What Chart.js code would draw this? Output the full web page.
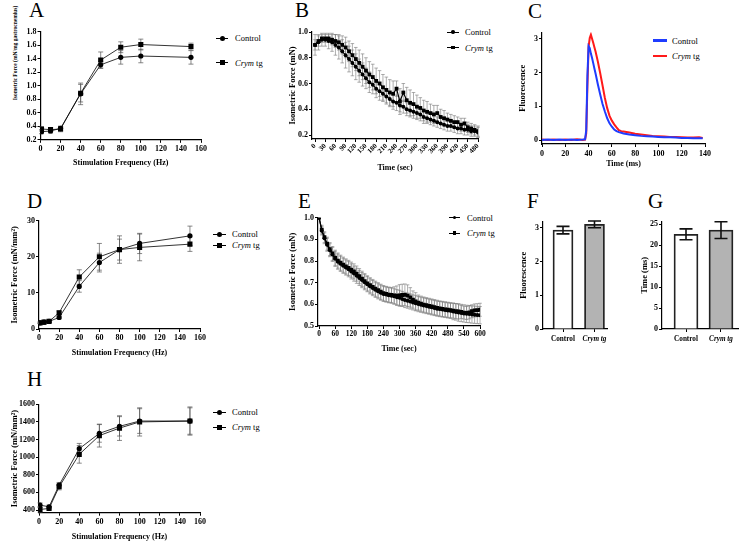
<!DOCTYPE html>
<html>
<head>
<meta charset="utf-8">
<script src="https://cdn.jsdelivr.net/npm/chart.js@4.4.1/dist/chart.umd.min.js"></script>
<style>
  body { margin: 0; background: #fff; width: 740px; height: 543px; position: relative; overflow: hidden; font-family: "Liberation Serif", "Times New Roman", serif; }
  canvas { position: absolute; }
  .lbl { position: absolute; font-size: 21px; line-height: 21px; }
  .lg { position: absolute; font-size: 8.5px; line-height: 10px; height: 10px; white-space: nowrap; }
  .mk { position: absolute; top: 4.5px; height: 1px; background: #000; }
  .mk b { position: absolute; left: 50%; top: 50%; background: #000; }
  .mk b.c { border-radius: 50%; }
  .ytl { position: absolute; font-weight: bold; font-size: 5.5px; white-space: nowrap; transform: translate(-50%, -50%) rotate(-90deg); }
</style>
</head>
<body>
<div class="lbl" style="left:29px;top:0px">A</div>
<div class="lbl" style="left:295px;top:0px">B</div>
<div class="lbl" style="left:528px;top:1px">C</div>
<div class="lbl" style="left:27px;top:191px">D</div>
<div class="lbl" style="left:298px;top:191px">E</div>
<div class="lbl" style="left:527px;top:191px">F</div>
<div class="lbl" style="left:648px;top:191px">G</div>
<div class="lbl" style="left:27px;top:369px">H</div>

<div class="ytl" style="left:15px;top:53px">Isometric Force (mN/mg gastrocnemius)</div>

<!-- legends -->
<div class="lg" style="left:235px;top:33px"><span class="mk" style="left:-19px;width:12px"><b class="c" style="width:5px;height:5px;margin:-2.5px 0 0 -2.5px"></b></span>Control</div>
<div class="lg" style="left:235px;top:57.5px"><span class="mk" style="left:-19px;width:12px"><b style="width:5px;height:5px;margin:-2.5px 0 0 -2.5px"></b></span><i>Crym</i> tg</div>

<div class="lg" style="left:465px;top:27px"><span class="mk" style="left:-18px;width:12px"><b class="c" style="width:3.5px;height:3.5px;margin:-1.75px 0 0 -1.75px"></b></span>Control</div>
<div class="lg" style="left:465px;top:42.5px"><span class="mk" style="left:-18px;width:12px"><b style="width:3.5px;height:3.5px;margin:-1.75px 0 0 -1.75px"></b></span><i>Crym</i> tg</div>

<div class="lg" style="left:672px;top:35.5px"><span class="mk" style="left:-19px;width:14px;height:2.5px;top:3.8px;background:#1f3cff"></span>Control</div>
<div class="lg" style="left:672px;top:51px"><span class="mk" style="left:-19px;width:14px;height:2.5px;top:3.8px;background:#ff1a1a"></span><i>Crym</i> tg</div>

<div class="lg" style="left:232px;top:229px"><span class="mk" style="left:-19px;width:13px"><b class="c" style="width:5px;height:5px;margin:-2.5px 0 0 -2.5px"></b></span>Control</div>
<div class="lg" style="left:232px;top:240px"><span class="mk" style="left:-19px;width:13px"><b style="width:5px;height:5px;margin:-2.5px 0 0 -2.5px"></b></span><i>Crym</i> tg</div>

<div class="lg" style="left:467px;top:212.5px"><span class="mk" style="left:-18px;width:11px"><b class="c" style="width:3.5px;height:3.5px;margin:-1.75px 0 0 -1.75px"></b></span>Control</div>
<div class="lg" style="left:467px;top:228px"><span class="mk" style="left:-18px;width:11px"><b style="width:3.5px;height:3.5px;margin:-1.75px 0 0 -1.75px"></b></span><i>Crym</i> tg</div>

<div class="lg" style="left:232px;top:407px"><span class="mk" style="left:-19px;width:13px"><b class="c" style="width:5px;height:5px;margin:-2.5px 0 0 -2.5px"></b></span>Control</div>
<div class="lg" style="left:232px;top:422px"><span class="mk" style="left:-19px;width:13px"><b style="width:5px;height:5px;margin:-2.5px 0 0 -2.5px"></b></span><i>Crym</i> tg</div>

<canvas id="chartA"></canvas>
<canvas id="chartB"></canvas>
<canvas id="chartC"></canvas>
<canvas id="chartD"></canvas>
<canvas id="chartE"></canvas>
<canvas id="chartF"></canvas>
<canvas id="chartG"></canvas>
<canvas id="chartH"></canvas>

<script>
// A - force/frequency, normalised to muscle mass
const freqA = [1, 10, 20, 40, 60, 80, 100, 150];
const ctrlA = [0.32, 0.33, 0.37, 0.88, 1.31, 1.42, 1.44, 1.42];
const ctrlAErr = [0.03, 0.03, 0.03, 0.16, 0.05, 0.10, 0.10, 0.10];
const crymA = [0.36, 0.35, 0.36, 0.89, 1.38, 1.57, 1.61, 1.58];
const crymAErr = [0.03, 0.03, 0.04, 0.13, 0.12, 0.08, 0.08, 0.05];
const xTicksA = [0, 20, 40, 60, 80, 100, 120, 140, 160];
const yTicksA = [0.2, 0.4, 0.6, 0.8, 1.0, 1.2, 1.4, 1.6, 1.8];

// B - fatigue, 0-480 s
const timeB = [0, 10, 20, 30, 40, 50, 60, 70, 80, 90, 100, 110, 120, 130, 140, 150, 160, 170, 180, 190, 200, 210, 220, 230, 240, 250, 260, 270, 280, 290, 300, 310, 320, 330, 340, 350, 360, 370, 380, 390, 400, 410, 420, 430, 440, 450, 460, 470, 480];
const ctrlB = [0.90, 0.92, 0.94, 0.94, 0.93, 0.92, 0.90, 0.88, 0.85, 0.82, 0.79, 0.76, 0.73, 0.70, 0.67, 0.64, 0.61, 0.59, 0.56, 0.54, 0.52, 0.50, 0.48, 0.46, 0.45, 0.43, 0.42, 0.40, 0.39, 0.38, 0.37, 0.36, 0.34, 0.33, 0.32, 0.31, 0.30, 0.29, 0.28, 0.27, 0.27, 0.26, 0.25, 0.25, 0.24, 0.24, 0.23, 0.23, 0.22];
const ctrlBErr = [0.08, 0.06, 0.05, 0.05, 0.06, 0.07, 0.08, 0.09, 0.09, 0.10, 0.10, 0.10, 0.10, 0.09, 0.09, 0.08, 0.08, 0.07, 0.07, 0.07, 0.06, 0.06, 0.06, 0.06, 0.06, 0.05, 0.05, 0.05, 0.05, 0.05, 0.05, 0.05, 0.05, 0.04, 0.04, 0.04, 0.04, 0.04, 0.04, 0.04, 0.04, 0.04, 0.04, 0.04, 0.04, 0.04, 0.04, 0.04, 0.04];
const crymB = [0.90, 0.93, 0.95, 0.95, 0.95, 0.94, 0.93, 0.92, 0.90, 0.88, 0.85, 0.82, 0.79, 0.76, 0.73, 0.70, 0.67, 0.65, 0.62, 0.60, 0.57, 0.55, 0.53, 0.52, 0.56, 0.46, 0.53, 0.47, 0.45, 0.44, 0.42, 0.41, 0.39, 0.38, 0.37, 0.36, 0.37, 0.34, 0.33, 0.32, 0.31, 0.30, 0.30, 0.28, 0.29, 0.26, 0.25, 0.24, 0.23];
const crymBErr = [0.04, 0.04, 0.03, 0.03, 0.03, 0.04, 0.05, 0.06, 0.07, 0.08, 0.08, 0.09, 0.09, 0.10, 0.10, 0.10, 0.10, 0.10, 0.10, 0.10, 0.10, 0.10, 0.10, 0.10, 0.06, 0.10, 0.07, 0.10, 0.10, 0.09, 0.09, 0.08, 0.08, 0.08, 0.07, 0.07, 0.06, 0.06, 0.06, 0.05, 0.05, 0.05, 0.04, 0.05, 0.04, 0.04, 0.04, 0.04, 0.04];
const xTicksB = [0, 30, 60, 90, 120, 150, 180, 210, 240, 270, 300, 330, 360, 390, 420, 450, 480];
const yTicksB = [0.2, 0.4, 0.6, 0.8, 1.0];

// C - calcium transient
const timeC = [0, 5, 10, 15, 20, 25, 30, 35, 37, 38, 39, 40, 41, 42, 43, 44, 45, 46, 48, 50, 52, 54, 56, 58, 60, 62, 64, 66, 68, 70, 75, 80, 85, 90, 95, 100, 105, 110, 115, 120, 125, 130, 135, 138];
const ctrlC = [0.01, 0.02, 0.01, 0.02, 0.01, 0.02, 0.01, 0.02, 0.03, 0.30, 1.90, 2.78, 2.72, 2.56, 2.43, 2.28, 2.12, 1.97, 1.65, 1.35, 1.07, 0.85, 0.65, 0.50, 0.40, 0.32, 0.27, 0.24, 0.22, 0.20, 0.17, 0.15, 0.13, 0.12, 0.11, 0.10, 0.09, 0.09, 0.08, 0.07, 0.07, 0.06, 0.06, 0.06];
const crymC = [0.02, 0.01, 0.02, 0.01, 0.02, 0.01, 0.03, 0.01, 0.02, 0.20, 1.60, 2.75, 3.02, 3.12, 3.00, 2.88, 2.75, 2.62, 2.32, 1.98, 1.62, 1.25, 0.95, 0.72, 0.58, 0.47, 0.38, 0.30, 0.27, 0.26, 0.23, 0.19, 0.17, 0.15, 0.13, 0.12, 0.11, 0.10, 0.10, 0.09, 0.08, 0.08, 0.09, 0.07];
const xTicksC = [0, 20, 40, 60, 80, 100, 120, 140];
const yTicksC = [0, 1, 2, 3];

// D - force/frequency, specific force
const freqD = [1, 5, 10, 20, 40, 60, 80, 100, 150];
const ctrlD = [1.7, 1.9, 2.1, 3.2, 11.8, 18.4, 22.0, 23.7, 25.8];
const ctrlDErr = [0.2, 0.2, 0.3, 0.4, 1.6, 2.6, 3.8, 2.8, 2.7];
const crymD = [1.7, 1.9, 2.1, 4.5, 14.4, 20.0, 22.0, 22.6, 23.5];
const crymDErr = [0.2, 0.2, 0.3, 0.5, 2.0, 3.7, 2.9, 3.7, 2.0];
const xTicksD = [0, 20, 40, 60, 80, 100, 120, 140, 160];
const yTicksD = [0, 10, 20, 30];

// E - fatigue, 0-600 s
const timeE = [0, 10, 20, 30, 40, 50, 60, 70, 80, 90, 100, 110, 120, 130, 140, 150, 160, 170, 180, 190, 200, 210, 220, 230, 240, 250, 260, 270, 280, 290, 300, 310, 320, 330, 340, 350, 360, 370, 380, 390, 400, 410, 420, 430, 440, 450, 460, 470, 480, 490, 500, 510, 520, 530, 540, 550, 560, 570, 580, 590, 600];
const ctrlE = [1.000, 0.940, 0.905, 0.875, 0.850, 0.830, 0.810, 0.797, 0.787, 0.778, 0.770, 0.762, 0.752, 0.742, 0.732, 0.722, 0.712, 0.702, 0.693, 0.683, 0.675, 0.667, 0.660, 0.654, 0.648, 0.645, 0.642, 0.640, 0.637, 0.633, 0.630, 0.625, 0.620, 0.617, 0.613, 0.609, 0.605, 0.601, 0.598, 0.595, 0.592, 0.589, 0.586, 0.583, 0.580, 0.578, 0.576, 0.574, 0.572, 0.570, 0.567, 0.565, 0.562, 0.560, 0.558, 0.556, 0.555, 0.553, 0.552, 0.551, 0.550];
const ctrlEErr = [0, 0.020, 0.025, 0.030, 0.030, 0.032, 0.035, 0.035, 0.035, 0.035, 0.035, 0.035, 0.035, 0.035, 0.035, 0.035, 0.035, 0.035, 0.035, 0.035, 0.035, 0.035, 0.035, 0.035, 0.035, 0.035, 0.035, 0.035, 0.035, 0.035, 0.035, 0.035, 0.035, 0.035, 0.035, 0.035, 0.035, 0.035, 0.035, 0.035, 0.035, 0.035, 0.035, 0.035, 0.035, 0.035, 0.035, 0.035, 0.035, 0.035, 0.038, 0.038, 0.040, 0.040, 0.040, 0.040, 0.040, 0.040, 0.040, 0.040, 0.040];
const crymE = [1.000, 0.945, 0.910, 0.880, 0.855, 0.835, 0.815, 0.802, 0.792, 0.783, 0.775, 0.768, 0.760, 0.752, 0.742, 0.730, 0.718, 0.707, 0.697, 0.688, 0.680, 0.672, 0.665, 0.658, 0.652, 0.648, 0.645, 0.643, 0.641, 0.640, 0.641, 0.643, 0.644, 0.640, 0.632, 0.622, 0.614, 0.608, 0.603, 0.599, 0.596, 0.593, 0.590, 0.587, 0.584, 0.581, 0.579, 0.577, 0.575, 0.573, 0.571, 0.569, 0.567, 0.565, 0.562, 0.560, 0.563, 0.568, 0.572, 0.573, 0.575];
const crymEErr = [0, 0.020, 0.025, 0.030, 0.030, 0.032, 0.035, 0.035, 0.035, 0.035, 0.035, 0.035, 0.035, 0.035, 0.035, 0.035, 0.035, 0.035, 0.035, 0.035, 0.035, 0.035, 0.035, 0.035, 0.035, 0.035, 0.035, 0.035, 0.040, 0.045, 0.050, 0.050, 0.050, 0.050, 0.045, 0.040, 0.040, 0.035, 0.035, 0.035, 0.035, 0.035, 0.035, 0.035, 0.035, 0.035, 0.035, 0.035, 0.035, 0.035, 0.035, 0.035, 0.035, 0.030, 0.030, 0.030, 0.030, 0.030, 0.030, 0.030, 0.030];
const xTicksE = [0, 60, 120, 180, 240, 300, 360, 420, 480, 540, 600];
const yTicksE = [0.5, 0.6, 0.7, 0.8, 0.9, 1.0];

// F, G - peak fluorescence and decay time
const groups = ['Control', 'Crym tg'];
const peakF = [2.93, 3.10];
const peakFErr = [0.11, 0.10];
const yTicksF = [0, 1, 2, 3];
const timeG = [22.6, 23.6];
const timeGErr = [1.3, 2.0];
const yTicksG = [0, 5, 10, 15, 20, 25];

// H - force/frequency, per cross sectional area
const freqH = [1, 10, 20, 40, 60, 80, 100, 150];
const ctrlH = [456, 437, 683, 1096, 1270, 1350, 1410, 1410];
const ctrlHErr = [25, 20, 30, 60, 100, 110, 140, 160];
const crymH = [407, 418, 664, 1032, 1245, 1330, 1400, 1410];
const crymHErr = [30, 15, 35, 100, 130, 140, 160, 150];
const xTicksH = [0, 20, 40, 60, 80, 100, 120, 140, 160];
const yTicksH = [400, 600, 800, 1000, 1200, 1400, 1600];

const FONT = "'Liberation Serif', 'Times New Roman', serif";

// draws mean +/- error whiskers using the chart's own y scale
const errorBars = {
  id: 'errorBars',
  beforeDatasetsDraw(chart, args, opts) { if (!opts.onTop) drawErrors(chart); },
  afterDatasetsDraw(chart, args, opts) { if (opts.onTop) drawErrors(chart); }
};
function drawErrors(chart) {
  const ctx = chart.ctx, ys = chart.scales.y;
  chart.data.datasets.forEach((ds, i) => {
    if (!ds.errors) return;
    const meta = chart.getDatasetMeta(i);
    ctx.save();
    ctx.strokeStyle = ds.errColor || '#555';
    ctx.lineWidth = ds.errWidth || 0.7;
    const cap = ds.errCap || 2.5;
    meta.data.forEach((el, j) => {
      const v = ds.data[j].y, e = ds.errors[j];
      if (!e) return;
      const top = ys.getPixelForValue(v + e), bot = ys.getPixelForValue(v - e);
      ctx.beginPath();
      ctx.moveTo(el.x, top); ctx.lineTo(el.x, bot);
      ctx.moveTo(el.x - cap, top); ctx.lineTo(el.x + cap, top);
      ctx.moveTo(el.x - cap, bot); ctx.lineTo(el.x + cap, bot);
      ctx.stroke();
    });
    ctx.restore();
  });
}

function axis(range, ticks, fmt, o) {
  return {
    type: 'linear', min: range[0], max: range[1], offset: false,
    afterBuildTicks: s => { s.ticks = ticks.map(v => ({ value: v })); },
    afterFit: s => { if (s.isHorizontal()) s.height = o.size; else s.width = o.size; },
    grid: { offset: false, drawOnChartArea: false, drawTicks: true, tickLength: 3, color: '#000', lineWidth: 1 },
    border: { display: true, color: '#000', width: 1.2 },
    ticks: {
      autoSkip: false, padding: o.pad == null ? 1 : o.pad, color: '#000',
      minRotation: o.rot || 0, maxRotation: o.rot || 0,
      font: o.tickFont || { family: FONT, weight: 'bold', size: o.tickSize || 8 },
      callback: v => fmt(v)
    },
    title: o.title
      ? { display: true, text: o.title, color: '#000', padding: o.titlePad, font: { family: FONT, weight: 'bold', size: o.titleSize } }
      : { display: false }
  };
}

// places the canvas so that the plot area lands on `area` (page pixels)
function panel(id, area, opt) {
  const ySize = opt.yTitleSize || 8.5, xSize = opt.xTitleSize || 8;
  const yLH = ySize * 1.2, xLH = xSize * 1.2;
  const leftEdge = opt.yTitle ? opt.yTitleX - yLH / 2 : area.l - 28;
  const cx = Math.floor(leftEdge);
  const cy = Math.floor(area.t - 8);
  const cr = Math.ceil(area.r + 14);
  const bottomEdge = opt.xTitle ? opt.xTitleY + xLH / 2 : area.b + 18;
  const cb = Math.ceil(bottomEdge);
  const cv = document.getElementById(id);
  cv.width = cr - cx; cv.height = cb - cy;
  cv.style.left = cx + 'px'; cv.style.top = cy + 'px';

  const x = axis(opt.xRange, opt.xTicks, opt.xFmt || String, {
    size: cb - area.b, pad: opt.xPad, rot: opt.xRot, tickSize: opt.xTickSize, tickFont: opt.xTickFont,
    title: opt.xTitle, titleSize: xSize, titlePad: { top: 0, bottom: cb - bottomEdge }
  });
  const y = axis(opt.yRange, opt.yTicks, opt.yFmt || String, {
    size: area.l - cx, pad: opt.yPad, tickSize: opt.yTickSize,
    title: opt.yTitle, titleSize: ySize, titlePad: { top: leftEdge - cx, bottom: 0 }
  });

  return new Chart(cv, {
    type: opt.type || 'line',
    data: { datasets: opt.datasets },
    options: {
      responsive: false, animation: false, devicePixelRatio: 1, events: [],
      layout: { padding: { left: 0, top: area.t - cy, right: cr - area.r, bottom: 0 } },
      scales: { x, y },
      plugins: { legend: { display: false }, tooltip: { enabled: false }, errorBars: { onTop: !!opt.barsOnTop } }
    },
    plugins: [errorBars]
  });
}

function series(xs, ys, errs, style) {
  return Object.assign({
    data: xs.map((x, i) => ({ x: x, y: ys[i] })),
    errors: errs,
    borderColor: '#000', backgroundColor: '#000', borderWidth: 0.8,
    pointBackgroundColor: '#000', pointBorderColor: '#000', pointBorderWidth: 0,
    tension: 0
  }, style);
}
const dot = { pointStyle: 'circle', pointRadius: 2.6 };
const sq = { pointStyle: 'rect', pointRadius: 3.6 };
const dotS = { pointStyle: 'circle', pointRadius: 2, borderWidth: 1.2, errColor: '#777', errWidth: 0.6, errCap: 1.8 };
const sqS = { pointStyle: 'rect', pointRadius: 2.7, borderWidth: 1.2, errColor: '#777', errWidth: 0.6, errCap: 1.8 };
const fix1 = v => v.toFixed(1);

panel('chartA', { l: 40.5, t: 31.7, r: 201, b: 139.8 }, {
  xRange: [0, 160], xTicks: xTicksA, yRange: [0.2, 1.8], yTicks: yTicksA, yFmt: fix1,
  xTitle: 'Stimulation Frequency (Hz)', xTitleY: 163.3,
  datasets: [series(freqA, ctrlA, ctrlAErr, dot), series(freqA, crymA, crymAErr, sq)]
});

panel('chartB', { l: 312, t: 32, r: 478, b: 139 }, {
  xRange: [-9, 480], xTicks: xTicksB, xRot: 45, xTickSize: 7, xPad: 0,
  yRange: [0.169, 1.0], yTicks: yTicksB, yFmt: fix1,
  xTitle: 'Time (sec)', xTitleY: 168.3, yTitle: 'Isometric Force (mN)', yTitleX: 292.3,
  datasets: [series(timeB, ctrlB, ctrlBErr, dotS), series(timeB, crymB, crymBErr, sqS)]
});

panel('chartC', { l: 542, t: 32.3, r: 705, b: 144 }, {
  xRange: [0, 140], xTicks: xTicksC, yRange: [-0.11, 3.19], yTicks: yTicksC, xPad: 2,
  xTitle: 'Time (ms)', xTitleY: 164.3, yTitle: 'Fluorescence', yTitleX: 523,
  datasets: [
    series(timeC, ctrlC, null, { borderColor: '#1f3cff', borderWidth: 2, pointRadius: 0 }),
    series(timeC, crymC, null, { borderColor: '#ff1a1a', borderWidth: 2, pointRadius: 0 })
  ]
});

panel('chartD', { l: 39, t: 220.7, r: 200, b: 329 }, {
  xRange: [0, 160], xTicks: xTicksD, yRange: [0, 30], yTicks: yTicksD,
  xTitle: 'Stimulation Frequency (Hz)', xTitleY: 353.3, yTitle: 'Isometric Force (mN/mm²)', yTitleX: 15,
  datasets: [series(freqD, ctrlD, ctrlDErr, dot), series(freqD, crymD, crymDErr, sq)]
});

panel('chartE', { l: 318, t: 217.7, r: 480, b: 326 }, {
  xRange: [-4, 600], xTicks: xTicksE, xTickSize: 7.5, yRange: [0.5, 1.0], yTicks: yTicksE, yFmt: fix1,
  xTitle: 'Time (sec)', xTitleY: 348.5, yTitle: 'Isometric Force (mN)', yTitleX: 293,
  datasets: [series(timeE, ctrlE, ctrlEErr, dotS), series(timeE, crymE, crymEErr, sqS)]
});

function barSet(vals, errs, thick) {
  return {
    data: groups.map((g, i) => ({ x: i, y: vals[i] })),
    errors: errs, errColor: '#111', errWidth: 1.6, errCap: 6.5,
    backgroundColor: ['#ffffff', '#b3b3b3'], borderColor: '#222', borderWidth: 1.8,
    barThickness: thick, borderSkipped: 'start'
  };
}
const groupFont = c => ({ family: FONT, weight: 'bold', size: 7.2, style: c.index === 1 ? 'italic' : 'normal' });

panel('chartF', { l: 543, t: 221.7, r: 607, b: 329 }, {
  type: 'bar', barsOnTop: true,
  xRange: [-0.635, 1.397], xTicks: [0, 1], xFmt: v => groups[v], xTickFont: groupFont, xPad: 2.5,
  yRange: [0, 3.18], yTicks: yTicksF,
  yTitle: 'Fluorescence', yTitleX: 524,
  datasets: [barSet(peakF, peakFErr, 20)]
});

panel('chartG', { l: 662, t: 221.7, r: 738, b: 329 }, {
  type: 'bar', barsOnTop: true,
  xRange: [-0.686, 1.486], xTicks: [0, 1], xFmt: v => groups[v], xTickFont: groupFont, xPad: 2.5,
  yRange: [0, 25.6], yTicks: yTicksG,
  yTitle: 'Time (ms)', yTitleX: 645,
  datasets: [barSet(timeG, timeGErr, 24)]
});

panel('chartH', { l: 39, t: 404.3, r: 200, b: 512.7 }, {
  xRange: [0, 160], xTicks: xTicksH, yRange: [370, 1600], yTicks: yTicksH,
  xTitle: 'Stimulation Frequency (Hz)', xTitleY: 536.7, yTitle: 'Isometric Force (mN/mm²)', yTitleX: 15,
  datasets: [series(freqH, ctrlH, ctrlHErr, dot), series(freqH, crymH, crymHErr, sq)]
});
</script>
</body>
</html>
